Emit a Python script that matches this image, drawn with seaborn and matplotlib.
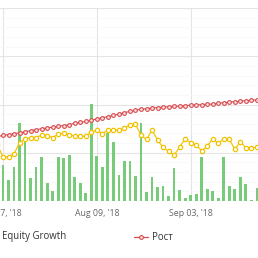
import numpy as np
import pandas as pd
import matplotlib
matplotlib.use("Agg")
import matplotlib.pyplot as plt
from matplotlib.lines import Line2D
import seaborn as sns

# ---- data (index = trading day, 0 = Jul 17 '18) ----
days = list(range(-1, 47))
bars = [0, 7.46, 4.35, 7.05, 16.17, 12.44, 4.77, 7.05, 9.12, 3.73, 2.07,
        9.12, 8.91, 9.53, 4.97, 3.73, 1.66, 20.10, 9.33, 7.05, 14.09,
        12.23, 5.39, 8.29, 8.29, 5.18, 16.17, 1.87, 4.97, 2.90, 3.11,
        1.04, 6.84, 2.28, 0.62, 1.24, 1.45, 9.12, 2.49, 2.07, 0.62,
        9.12, 3.11, 2.49, 4.97, 3.52, 0.2, 2.69]
equity = [11.6, 9.12, 9.20, 9.74, 12.12, 12.85, 13.16, 13.16, 13.68, 13.53,
          13.16, 13.84, 14.05, 13.68, 13.51, 13.41, 13.37, 14.30, 14.65,
          13.95, 14.72, 14.67, 14.72, 15.03, 15.85, 15.90, 13.68, 12.75,
          14.72, 12.64, 11.09, 10.32, 9.47, 11.19, 12.85, 12.08, 11.54,
          10.42, 11.36, 12.91, 11.92, 12.91, 12.79, 10.72, 12.29, 11.03,
          11.03, 11.13]
growth = [13.37, 13.58, 13.76, 13.95, 14.13, 14.34, 14.57, 14.78, 14.96,
          15.13, 15.30, 15.46, 15.63, 15.81, 16.10, 16.27, 16.48, 16.75,
          16.99, 17.26, 17.47, 17.74, 18.03, 18.32, 18.55, 18.80, 19.01,
          19.13, 19.25, 19.36, 19.44, 19.52, 19.61, 19.69, 19.77, 19.85,
          19.90, 19.96, 20.02, 20.10, 20.25, 20.37, 20.50, 20.60, 20.68,
          20.79, 20.87, 20.95]
tick_days = [0, 17, 34]
tick_labels = ["Jul 17, '18", "Aug 09, '18", "Sep 03, '18"]
legend_labels = ["Equity Growth", "Рост"]

df = pd.DataFrame({"day": days, "bar": bars, "equity": equity, "growth": growth})
df["pos"] = np.arange(len(df))          # categorical slot of each day
offset = -days[0]                       # slot of day 0

sns.set_theme(style="white")
plt.rcParams['font.family'] = ['Open Sans', 'DejaVu Sans']

GREEN = "#78cb78"
GOLD = "#f2c200"
RED = "#d94b4f"

fig = plt.figure(figsize=(2.58, 2.58), dpi=100)
ax = fig.add_axes([0, 57 / 258, 1, 193 / 258])

sns.barplot(data=df, x="pos", y="bar", width=0.5, color=GREEN,
            saturation=1, linewidth=0, edgecolor=GREEN, ax=ax, zorder=2)
sns.lineplot(data=df, x="pos", y="equity", ax=ax, color=GOLD, lw=0.85,
             marker="o", markersize=3.1, markerfacecolor="white",
             markeredgecolor=GOLD, markeredgewidth=0.9, zorder=3)
sns.lineplot(data=df, x="pos", y="growth", ax=ax, color=RED, lw=0.85,
             marker="o", markersize=2.7, markerfacecolor="#fbe3e3",
             markeredgecolor=RED, markeredgewidth=0.8, zorder=4)

ax.set_xlim(-0.543 + offset, 46.2 + offset)
ax.set_ylim(0, 40)
ax.set_yticks([0, 10, 20, 30, 40])
ax.set_yticks(np.arange(0, 40, 2), minor=True)
ax.set_yticklabels([])
ax.set_xticks([d + offset for d in tick_days])
ax.set_xticklabels(tick_labels, fontsize=6.3, color="#666666")
ax.tick_params(axis="x", length=0, pad=6)
ax.tick_params(axis="y", length=0, which="both")
ax.set_xlabel("")
ax.set_ylabel("")
ax.grid(True, axis="y", which="major", color="#e4e4e4", lw=0.8, zorder=0)
ax.grid(True, axis="y", which="minor", color="#f6f6f6", lw=0.5, zorder=0)
ax.grid(True, axis="x", which="major", color="#e4e4e4", lw=0.8, zorder=0)
ax.set_axisbelow(True)
for s in ax.spines.values():
    s.set_visible(False)
if ax.get_legend() is not None:
    ax.get_legend().remove()

# legend (cropped in the reference)
ly = (258 - 237) / 258
fig.text(2 / 258, ly, legend_labels[0], fontsize=6.9, color="#333333",
         va="center", ha="left")
fig.add_artist(Line2D([134 / 258, 148 / 258], [ly, ly], color=RED, lw=0.9,
                      transform=fig.transFigure))
fig.add_artist(Line2D([141 / 258], [ly], color=RED, marker="o", markersize=2.7,
                      markerfacecolor="#fbe3e3", markeredgecolor=RED,
                      markeredgewidth=0.8, transform=fig.transFigure))
fig.text(152 / 258, ly, legend_labels[1], fontsize=6.9, color="#333333",
         va="center", ha="left")

fig.savefig("out.png", dpi=100)
